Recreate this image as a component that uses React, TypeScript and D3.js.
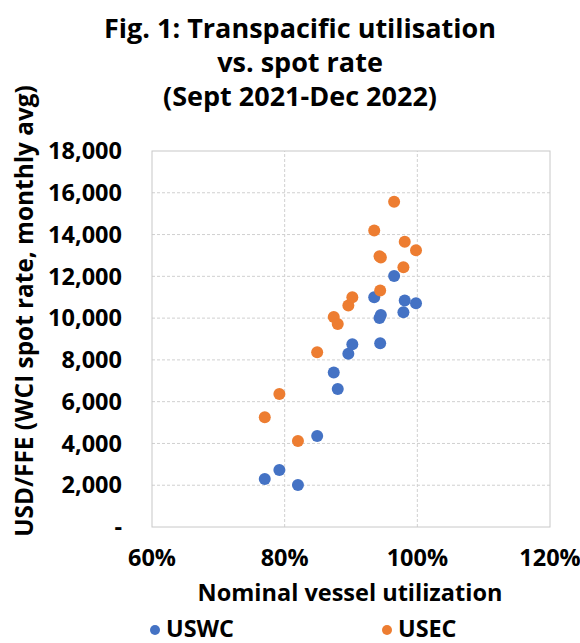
import { useEffect, useRef } from 'react';
import * as d3 from 'd3';

const titleLines = ['Fig. 1: Transpacific utilisation', 'vs. spot rate', '(Sept 2021-Dec 2022)'];
const xTicks = [0.6, 0.8, 1.0, 1.2];
const yTicks = [0, 2000, 4000, 6000, 8000, 10000, 12000, 14000, 16000, 18000];

// utilisation per month (shared by both lanes)
const utilisation = [0.77, 0.792, 0.82, 0.849, 0.874, 0.88, 0.896, 0.902, 0.935, 0.943, 0.945, 0.944, 0.965, 0.979, 0.981, 0.998];
const uswcRates = [2300, 2730, 2010, 4360, 7400, 6610, 8290, 8750, 11000, 10000, 10150, 8800, 12020, 10280, 10840, 10710];
const usecRates = [5250, 6370, 4120, 8370, 10050, 9720, 10600, 11000, 14190, 12960, 12900, 11320, 15570, 12440, 13660, 13250];

const series = [
  { name: 'USWC', color: '#4472C4', values: uswcRates },
  { name: 'USEC', color: '#ED7D31', values: usecRates },
];

const W = 580;
const H = 643;
const margin = { top: 151, right: 30, bottom: 116, left: 152 };
const font = '"Open Sans", sans-serif';

export default function App() {
  const svgRef = useRef<SVGSVGElement>(null);

  useEffect(() => {
    const svg = d3.select(svgRef.current);
    svg.selectAll('*').remove();

    // font size that makes a string a given width
    const sizeFor = (str: string, width: number) => {
      const t = svg
        .append('text')
        .attr('font-family', font)
        .attr('font-weight', 'bold')
        .attr('font-size', 20)
        .text(str);
      const len = (t.node() as SVGTextElement).getComputedTextLength();
      t.remove();
      return (20 * width) / len;
    };
    const titleSize = sizeFor(titleLines[0], 392);
    const yTickSize = sizeFor('18,000', 74);
    const xTickSize = sizeFor('60%', 48);
    const xTitleSize = sizeFor('Nominal vessel utilization', 305);
    const yTitleSize = sizeFor('USD/FFE (WCI spot rate, monthly avg)', 452);
    const legendSize = sizeFor('USWC', 68);

    const x = d3.scaleLinear().domain([0.6, 1.2]).range([margin.left, W - margin.right]);
    const y = d3.scaleLinear().domain([0, 18000]).range([H - margin.bottom, margin.top]);

    // title
    svg
      .append('g')
      .selectAll('text')
      .data(titleLines)
      .enter()
      .append('text')
      .attr('x', 300)
      .attr('y', (_, i) => 38 + i * 34)
      .attr('text-anchor', 'middle')
      .attr('font-family', font)
      .attr('font-weight', 'bold')
      .attr('font-size', titleSize)
      .attr('fill', '#000')
      .text(d => d);

    // grid
    const grid = svg.append('g');
    grid
      .selectAll('line.h')
      .data(yTicks.slice(1, -1))
      .enter()
      .append('line')
      .attr('x1', x(0.6))
      .attr('x2', x(1.2))
      .attr('y1', d => y(d))
      .attr('y2', d => y(d))
      .attr('stroke', '#d0d0d0')
      .attr('stroke-dasharray', '3,2');
    grid
      .selectAll('line.v')
      .data(xTicks.slice(1, -1))
      .enter()
      .append('line')
      .attr('x1', d => x(d))
      .attr('x2', d => x(d))
      .attr('y1', y(0))
      .attr('y2', y(18000))
      .attr('stroke', '#d0d0d0')
      .attr('stroke-dasharray', '3,2');
    grid
      .append('rect')
      .attr('x', x(0.6))
      .attr('y', y(18000))
      .attr('width', x(1.2) - x(0.6))
      .attr('height', y(0) - y(18000))
      .attr('fill', 'none')
      .attr('stroke', '#c8c8c8');

    // y tick labels
    svg
      .append('g')
      .selectAll('text')
      .data(yTicks)
      .enter()
      .append('text')
      .attr('x', 122)
      .attr('y', d => y(d))
      .attr('dy', '0.35em')
      .attr('text-anchor', 'end')
      .attr('font-family', font)
      .attr('font-weight', 'bold')
      .attr('font-size', yTickSize)
      .text(d => (d === 0 ? '-' : d3.format(',')(d)));

    // x tick labels
    svg
      .append('g')
      .selectAll('text')
      .data(xTicks)
      .enter()
      .append('text')
      .attr('x', d => x(d))
      .attr('y', 566)
      .attr('text-anchor', 'middle')
      .attr('font-family', font)
      .attr('font-weight', 'bold')
      .attr('font-size', xTickSize)
      .text(d => d3.format('.0%')(d));

    // axis titles
    svg
      .append('text')
      .attr('x', 350)
      .attr('y', 601)
      .attr('text-anchor', 'middle')
      .attr('font-family', font)
      .attr('font-weight', 'bold')
      .attr('font-size', xTitleSize)
      .text('Nominal vessel utilization');
    svg
      .append('text')
      .attr('transform', 'translate(33,311) rotate(-90)')
      .attr('text-anchor', 'middle')
      .attr('font-family', font)
      .attr('font-weight', 'bold')
      .attr('font-size', yTitleSize)
      .text('USD/FFE (WCI spot rate, monthly avg)');

    // points
    series.forEach(s => {
      svg
        .append('g')
        .selectAll('circle')
        .data(s.values)
        .enter()
        .append('circle')
        .attr('cx', (_, i) => x(utilisation[i]))
        .attr('cy', d => y(d))
        .attr('r', 6)
        .attr('fill', s.color);
    });

    // legend
    const legend = svg
      .append('g')
      .selectAll('g')
      .data(series)
      .enter()
      .append('g')
      .attr('transform', (_, i) => `translate(${i === 0 ? 155 : 387},630)`);
    legend.append('circle').attr('r', 5).attr('fill', d => d.color);
    legend
      .append('text')
      .attr('x', 11)
      .attr('y', 7)
      .attr('font-family', font)
      .attr('font-weight', 'bold')
      .attr('font-size', legendSize)
      .text(d => d.name);
  }, []);

  return (
    <svg
      ref={svgRef}
      width={W}
      height={H}
      style={{ position: 'absolute', left: 0, top: 0, background: '#fff' }}
    ></svg>
  );
}
